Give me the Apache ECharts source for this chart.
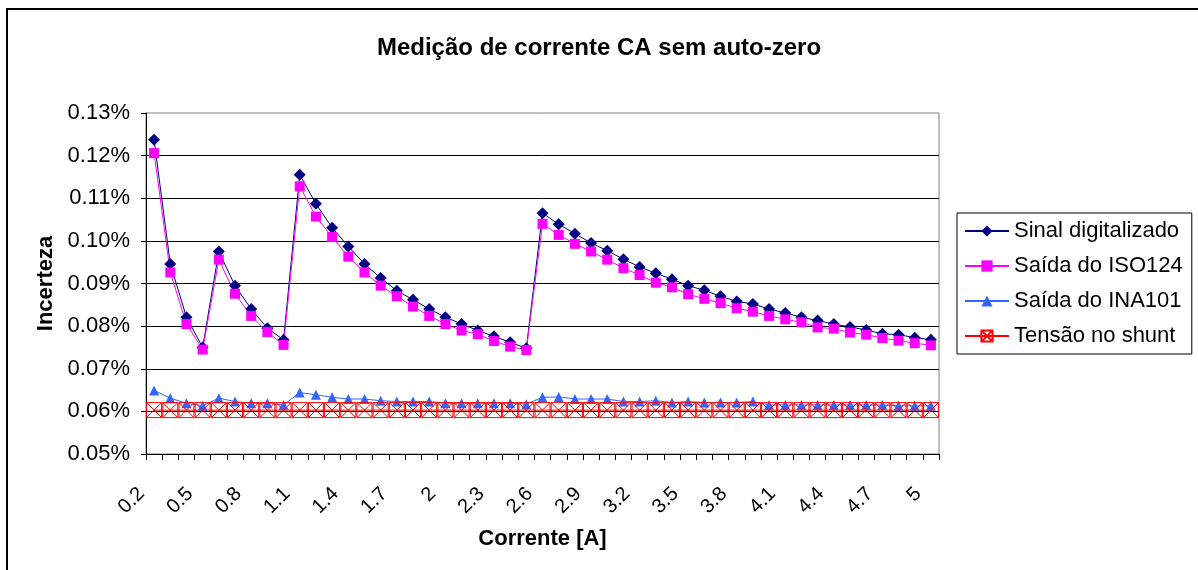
<!DOCTYPE html>
<html>
<head>
<meta charset="utf-8">
<script src="https://cdn.jsdelivr.net/npm/echarts@6/dist/echarts.min.js"></script>
<style>
  html, body { margin: 0; padding: 0; background: #fff; }
  #chart { width: 1198px; height: 570px; }
</style>
</head>
<body>
<div id="chart"></div>
<script>
// Corrente [A]
const correntes = ['0.2','0.3','0.4','0.5','0.6','0.7','0.8','0.9','1','1.1','1.2','1.3','1.4','1.5','1.6','1.7','1.8','1.9',
  '2','2.1','2.2','2.3','2.4','2.5','2.6','2.7','2.8','2.9','3','3.1','3.2','3.3','3.4','3.5','3.6','3.7','3.8','3.9',
  '4','4.1','4.2','4.3','4.4','4.5','4.6','4.7','4.8','4.9','5'];

// incerteza em %
const sinalDigitalizado = [0.1237, 0.0946, 0.0821, 0.0750, 0.0975, 0.0895, 0.0840, 0.0795, 0.0768,
  0.1155, 0.1087, 0.1031, 0.0987, 0.0946, 0.0913, 0.0883, 0.0862, 0.0840, 0.0821, 0.0805, 0.0790, 0.0776, 0.0762, 0.0748,
  0.1065, 0.1039, 0.1017, 0.0995, 0.0977, 0.0957, 0.0939, 0.0924, 0.0910, 0.0895, 0.0884, 0.0870, 0.0858, 0.0852,
  0.0840, 0.0831, 0.0821, 0.0813, 0.0805, 0.0798, 0.0791, 0.0782, 0.0780, 0.0773, 0.0768];
const saidaIso124 = [0.1206, 0.0926, 0.0805, 0.0745, 0.0956, 0.0876, 0.0824, 0.0786, 0.0756,
  0.1128, 0.1057, 0.1009, 0.0963, 0.0926, 0.0895, 0.0870, 0.0846, 0.0824, 0.0805, 0.0790, 0.0781, 0.0765, 0.0752, 0.0744,
  0.1040, 0.1014, 0.0993, 0.0975, 0.0956, 0.0936, 0.0920, 0.0902, 0.0891, 0.0875, 0.0864, 0.0854, 0.0842, 0.0834,
  0.0824, 0.0816, 0.0809, 0.0797, 0.0794, 0.0785, 0.0780, 0.0772, 0.0766, 0.0760, 0.0755];
const saidaIna101 = [0.0649, 0.0631, 0.0619, 0.0613, 0.0631, 0.0623, 0.0619, 0.0619, 0.0615,
  0.0644, 0.0639, 0.0633, 0.0629, 0.0629, 0.0625, 0.0623, 0.0623, 0.0623, 0.0619, 0.0619, 0.0619, 0.0619, 0.0619, 0.0617,
  0.0633, 0.0634, 0.0629, 0.0629, 0.0629, 0.0623, 0.0623, 0.0625, 0.0621, 0.0623, 0.0621, 0.0621, 0.0621, 0.0623,
  0.0615, 0.0615, 0.0615, 0.0615, 0.0615, 0.0615, 0.0615, 0.0615, 0.0613, 0.0613, 0.0613];
const tensaoShunt = [0.0603, 0.0603, 0.0603, 0.0603, 0.0603, 0.0603, 0.0603, 0.0603, 0.0603,
  0.0603, 0.0603, 0.0603, 0.0603, 0.0603, 0.0603, 0.0603, 0.0603, 0.0603, 0.0603, 0.0603, 0.0603, 0.0603, 0.0603, 0.0603,
  0.0603, 0.0603, 0.0603, 0.0603, 0.0603, 0.0603, 0.0603, 0.0603, 0.0603, 0.0603, 0.0603, 0.0603, 0.0603, 0.0603,
  0.0603, 0.0603, 0.0603, 0.0603, 0.0603, 0.0603, 0.0603, 0.0603, 0.0603, 0.0603, 0.0603];

const nomes = ['Sinal digitalizado', 'Saída do ISO124', 'Saída do INA101', 'Tensão no shunt'];
const yMin = 0.05, yMax = 0.13, yStep = 0.01;

const fonte = "'Liberation Sans', Arial, sans-serif";
// quadrado com X (marcador do shunt)
const simboloX = 'path://M0 0H20V20H0Z M0 0L20 20 M20 0L0 20';

const myChart = echarts.init(document.getElementById('chart'));

const serie = (name, data, color, symbol, size, extra) => Object.assign({
  name: name,
  type: 'line',
  data: data,
  symbol: symbol,
  symbolSize: size,
  showAllSymbol: true,
  color: color,
  lineStyle: { color: color, width: 1 },
  itemStyle: { color: color },
  emphasis: { disabled: true }
}, extra || {});

myChart.setOption({
  animation: false,
  backgroundColor: '#fff',
  textStyle: { fontFamily: fonte, color: '#000' },
  title: {
    text: 'Medição de corrente CA sem auto-zero',
    left: 'center',
    top: 31,
    textStyle: { fontFamily: fonte, fontSize: 24, fontWeight: 'bold', color: '#000' }
  },
  graphic: [{
    type: 'rect',
    shape: { x: 7, y: 9, width: 1300, height: 700 },
    style: { fill: 'none', stroke: '#000', lineWidth: 2 },
    silent: true
  }],
  legend: {
    orient: 'vertical',
    left: 957,
    top: 213,
    data: nomes,
    backgroundColor: '#fff',
    borderColor: '#000',
    borderWidth: 1,
    borderRadius: 0,
    padding: [7, 9, 7, 7],
    itemGap: 13,
    itemWidth: 44,
    itemHeight: 14,
    textStyle: { fontFamily: fonte, fontSize: 22, color: '#000' }
  },
  grid: {
    left: 146,
    right: 259,
    top: 113,
    bottom: 116,
    show: true,
    borderColor: '#808080',
    borderWidth: 1,
    backgroundColor: '#fff',
    containLabel: false,
    outerBoundsMode: 'none'
  },
  xAxis: {
    type: 'category',
    data: correntes,
    boundaryGap: true,
    name: 'Corrente [A]',
    nameLocation: 'middle',
    nameGap: 74,
    nameTextStyle: { fontFamily: fonte, fontSize: 22, fontWeight: 'bold', color: '#000' },
    axisLine: { lineStyle: { color: '#000', width: 1 } },
    axisTick: { show: true, interval: 0, length: 6, lineStyle: { color: '#000' } },
    axisLabel: {
      interval: 2, rotate: 45, margin: 24, padding: [0, 18, 0, 0],
      fontSize: 20, color: '#000', fontFamily: fonte
    },
    splitLine: { show: false }
  },
  yAxis: {
    type: 'value',
    min: yMin,
    max: yMax,
    interval: yStep,
    name: 'Incerteza',
    nameLocation: 'middle',
    nameGap: 89,
    nameTextStyle: { fontFamily: fonte, fontSize: 22, fontWeight: 'bold', color: '#000' },
    axisLine: { show: true, lineStyle: { color: '#000', width: 1 } },
    axisTick: { show: true, length: 5, lineStyle: { color: '#000' } },
    axisLabel: {
      margin: 16, fontSize: 22, color: '#000', fontFamily: fonte,
      formatter: v => v.toFixed(2) + '%'
    },
    splitLine: { show: true, showMaxLine: false, lineStyle: { color: '#000', width: 1 } }
  },
  series: [
    serie(nomes[0], sinalDigitalizado, '#000080', 'diamond', 12),
    serie(nomes[1], saidaIso124, '#FF00FF', 'rect', 10),
    serie(nomes[2], saidaIna101, '#3366FF', 'triangle', 10),
    serie(nomes[3], tensaoShunt, '#FF0000', simboloX, 15, {
      itemStyle: { color: 'rgba(255,255,255,0)', borderColor: '#FF0000', borderWidth: 1 }
    })
  ]
});
</script>
</body>
</html>
